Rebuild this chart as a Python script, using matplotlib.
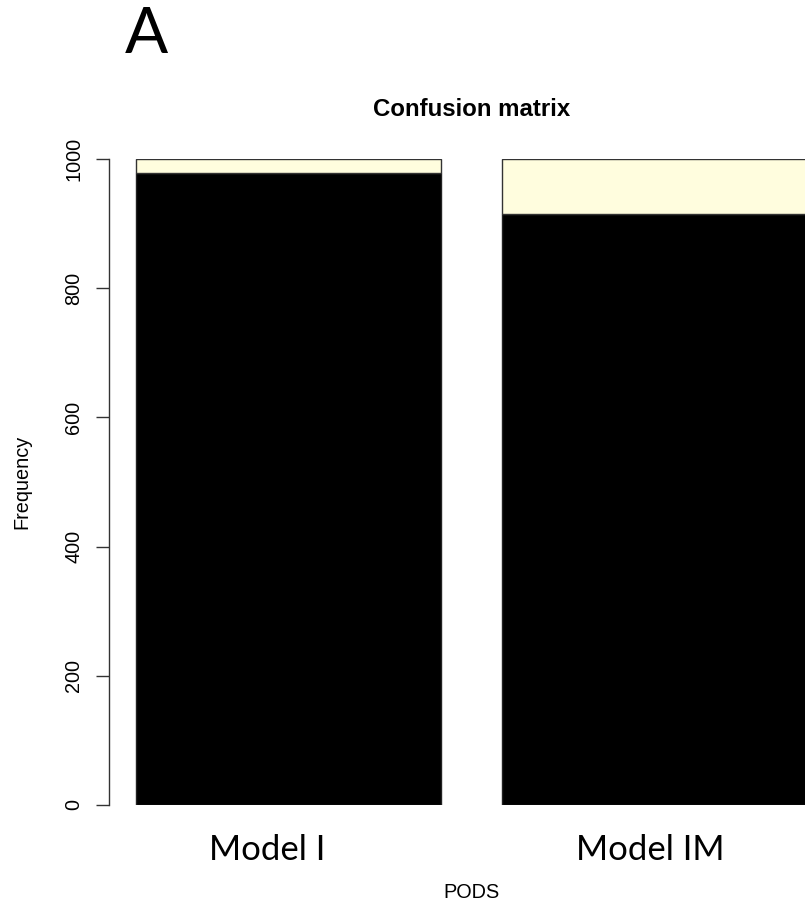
import matplotlib
matplotlib.use("Agg")
import matplotlib.pyplot as plt

categories = ["Model I", "Model IM"]
correct = [979, 915]
wrong = [21, 85]
yticks = [0, 200, 400, 600, 800, 1000]

W, H = 805, 910
fig = plt.figure(figsize=(W / 100, H / 100), dpi=100)
ax = fig.add_axes([109 / W, (H - 805) / H, (834 - 109) / W, 646 / H])

lefts = [0.2 + 1.2 * i for i in range(len(categories))]
centers = [l + 0.5 for l in lefts]
ax.bar(centers, correct, width=1.0, color="black", edgecolor="#222222", linewidth=1.0)
ax.bar(centers, wrong, width=1.0, bottom=correct, color="#FFFDDE", edgecolor="#333333", linewidth=1.0)

ax.set_xlim(0.112, 2.488)
ax.set_ylim(0, 1000)
for s in ["top", "right", "bottom"]:
    ax.spines[s].set_visible(False)
ax.spines["left"].set_bounds(0, 1000)
ax.spines["left"].set_color("#333333")
ax.spines["left"].set_linewidth(1.0)
ax.set_xticks([])
ax.set_yticks(yticks)
ax.set_yticklabels([str(v) for v in yticks], rotation=90, va="center",
                   fontsize=14.3, family="Liberation Sans")
ax.tick_params(axis="y", length=9.4, width=1.0, color="#333333", pad=9)

ax.text(0.5, (805 - 110) / 646, "Confusion matrix", transform=ax.transAxes,
        ha="center", va="center", fontsize=17.3, fontweight="bold", family="Liberation Sans")
ax.text(0.5, (805 - 893) / 646, "PODS", transform=ax.transAxes,
        ha="center", va="center", fontsize=14.3, family="Liberation Sans")
fig.text(22 / W, 1 - 482 / H, "Frequency", rotation=90, ha="center", va="center",
         fontsize=14.3, family="Liberation Sans")

label_x = [267, 650]
for lx, lab in zip(label_x, categories):
    fig.text(lx / W, 1 - 850 / H, lab, ha="center", va="center", fontsize=25, family="Lato")

fig.text(146 / W, 1 - 35 / H, "A", ha="center", va="center", fontsize=46, family="Lato")

fig.savefig("out.png", dpi=100)
